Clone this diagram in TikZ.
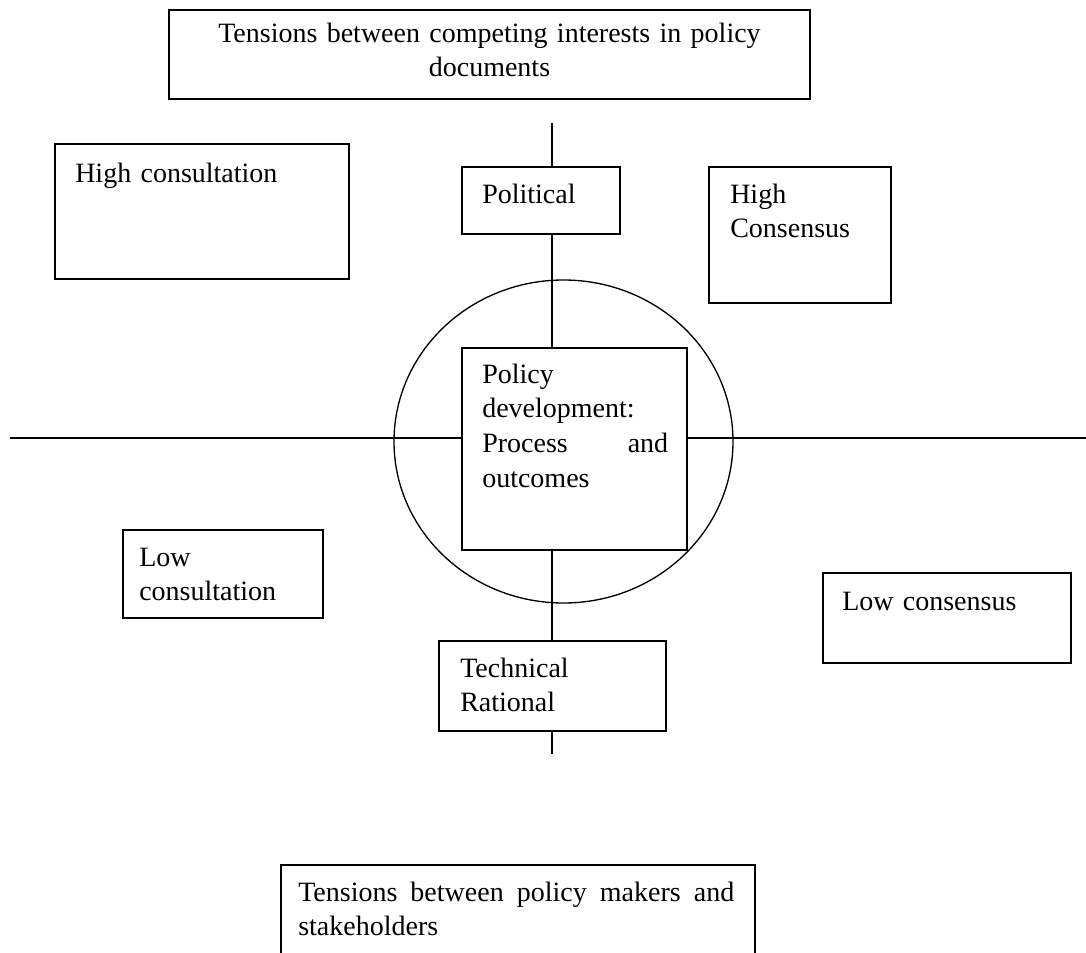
\documentclass[tikz,border=0pt]{standalone}
\usepackage{fontspec}
\setmainfont{Liberation Serif}
\tikzset{
  box/.style={draw=black, fill=white, line width=1.1pt},
  axis/.style={draw=black, line width=1pt},
  lbl/.style={anchor=base west, inner sep=0pt, align=left, text width=#1, font=\fontsize{21}{26}\selectfont},
  lbl/.default=220pt,
}

\begin{document}
\begin{tikzpicture}[x=0.75pt,y=0.75pt,yscale=-1]
%set diagram: width 1086, height 953
\useasboundingbox (0,0) rectangle (1086,953);

%Shape: Ellipse
\draw[axis] (563.5,441.5) ellipse (169.5 and 161.5);
%Straight Lines
\coordinate (vtop) at (552,123);
\coordinate (vbot) at (552,754);
\coordinate (hleft) at (10,438);
\coordinate (hright) at (1086,438);
\draw[axis] (vtop) -- (vbot);
\draw[axis] (hleft) -- (hright);

%Shape: Rectangle
\draw[box] (169,10) rectangle (810,99);
\node[lbl=440pt, anchor=base, align=center] (tensint) at (489.5,42) {Tensions between competing interests in policy\\documents};
%Shape: Rectangle
\draw[box] (55,144) rectangle (349,279);
\node[lbl] (highcons) at (75,182) {High consultation};
%Shape: Rectangle
\draw[box] (462,167) rectangle (620,234);
\node[lbl] (political) at (482,203) {Political};
%Shape: Rectangle
\draw[box] (709,167) rectangle (891,303);
\node[lbl] (highcsn) at (730,203) {High\\Consensus};
%Shape: Rectangle
\draw[box] (462,348) rectangle (687,550);
\node[lbl=139.5pt] (policy) at (482,383) {Policy\\development:\\Process\hfill and\\outcomes};
%Shape: Rectangle
\draw[box] (123,530) rectangle (323,618);
\node[lbl] (lowcons) at (139,566) {Low\\consultation};
%Shape: Rectangle
\draw[box] (823,573) rectangle (1071,663);
\node[lbl] (lowcsn) at (842,610) {Low consensus};
%Shape: Rectangle
\draw[box] (439,641) rectangle (666,731);
\node[lbl] (technical) at (460,677) {Technical\\Rational};
%Shape: Rectangle (open at the foot)
\draw[box] (281,960) -- (281,865) -- (755,865) -- (755,960);
\node[lbl=327pt] (tenspol) at (298,901) {Tensions\hfill between\hfill policy\hfill makers\hfill and\\stakeholders};

\end{tikzpicture}
\end{document}
